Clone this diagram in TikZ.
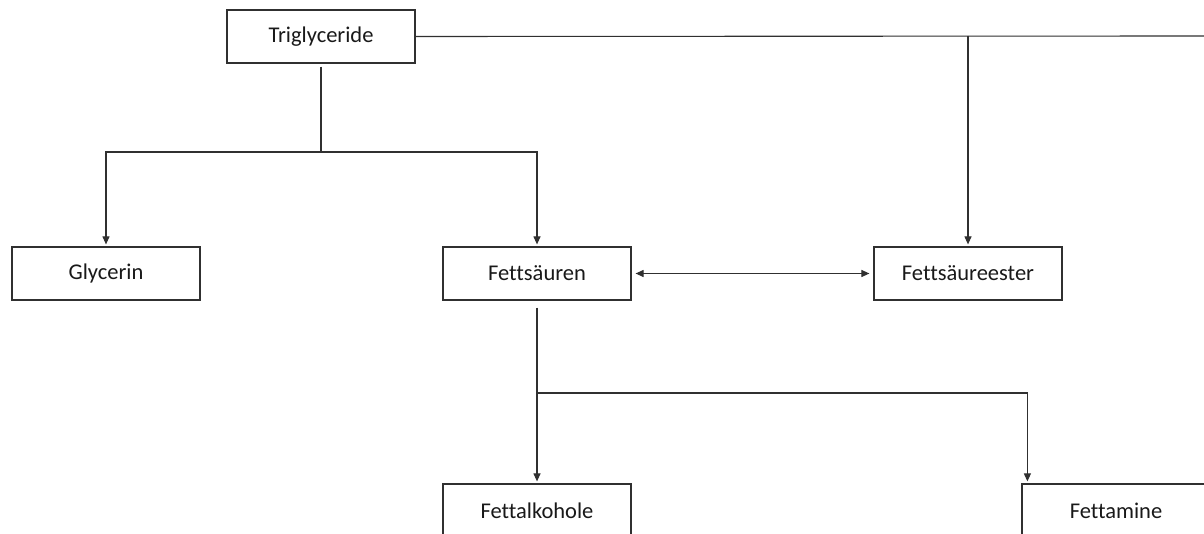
\documentclass[tikz,border=0pt]{standalone}
\usepackage{fontspec}
\setmainfont{Carlito}[Ligatures={NoCommon}]
\usetikzlibrary{arrows.meta}
\definecolor{ln}{HTML}{303030}
\tikzset{
  box/.style={draw=ln, line width=1.2pt, fill=white, minimum width=188pt, minimum height=53pt, inner sep=0pt, text=black!90, font=\fontsize{22.5}{26}\selectfont},
  conn/.style={draw=ln, line width=1.1pt},
  tip/.style={-{Triangle[width=7pt,length=8pt]}, shorten >=2pt},
}
\begin{document}
\begin{tikzpicture}[x=1pt,y=-1pt]
\useasboundingbox (0,0) rectangle (1204,534);
\clip (0,0) rectangle (1204,534);
\fill[white] (0,0) rectangle (1204,534);
\node[box] (trig) at (321,36.5) {Triglyceride};
\node[box] (gly) at (106,273.5) {Glycerin};
\node[box] (fs) at (537,273.5) {Fettsäuren};
\node[box] (fse) at (968,273.5) {Fettsäureester};
\node[box] (fa) at (537,510.5) {Fettalkohole};
\node[box] (fam) at (1116,510.5) {Fettamine};
\coordinate (j1) at (321,152);
\coordinate (redge) at (1206,36);
\coordinate (j3) at (968,36);
\coordinate (j2) at (537,393);
\draw[conn, shorten <=3pt] (trig.south) -- (j1);
\draw[conn, tip] (j1) -| (gly.north);
\draw[conn, tip] (j1) -| (fs.north);
\draw[conn] (trig.east) -- (redge);
\draw[conn, tip] (j3) -- (fse.north);
\draw[conn, {Triangle[width=7pt,length=8pt]}-{Triangle[width=7pt,length=8pt]}, shorten <=4pt, shorten >=4pt] (fs.east) -- (fse.west);
\draw[conn, shorten <=7pt] (fs.south) -- (j2);
\draw[conn, tip] (j2) -- (fa.north);
\draw[conn, tip] (j2) -| ([xshift=6pt]fam.north west);
\end{tikzpicture}
\end{document}
